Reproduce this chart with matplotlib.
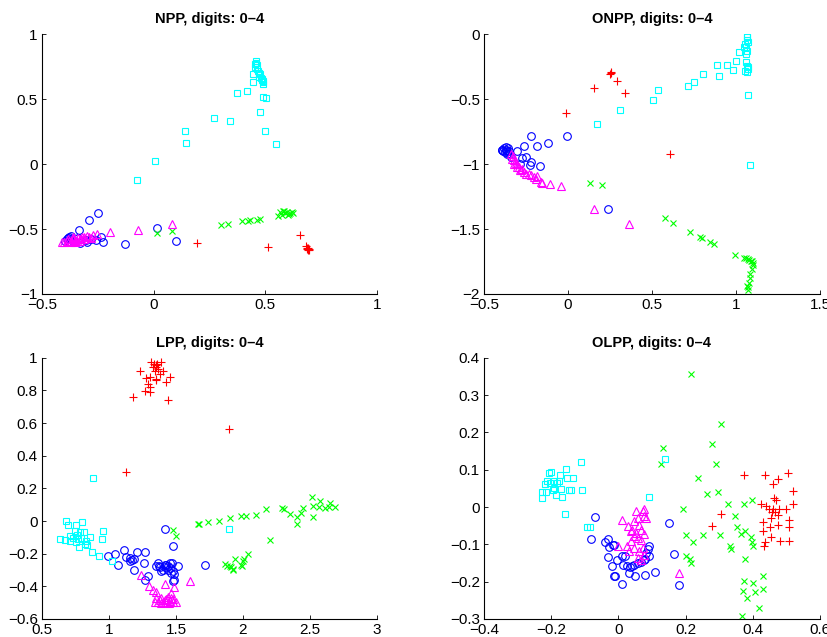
import numpy as np
import matplotlib
matplotlib.use('Agg')
import matplotlib.pyplot as plt

plt.rcParams['font.family'] = ['Liberation Sans', 'DejaVu Sans']
plt.rcParams['font.size'] = 10

# ---------------- NPP ----------------
npp_blue = [(-0.249, -0.376), (-0.291, -0.427), (-0.334, -0.509), (-0.234, -0.560), (-0.227, -0.601),
            (-0.301, -0.586), (-0.259, -0.581), (-0.129, -0.616), (0.017, -0.491), (0.098, -0.596),
            (-0.38, -0.56), (-0.385, -0.57), (-0.37, -0.58), (-0.375, -0.60), (-0.36, -0.59),
            (-0.39, -0.58), (-0.38, -0.60), (-0.35, -0.60), (-0.33, -0.61), (-0.34, -0.57),
            (-0.395, -0.59), (-0.37, -0.555), (-0.30, -0.60), (-0.28, -0.58)]
npp_red = [(0.192, -0.604), (0.510, -0.639), (0.655, -0.545), (0.682, -0.632), (0.688, -0.650),
           (0.692, -0.662), (0.697, -0.657), (0.690, -0.645), (0.695, -0.665), (0.685, -0.655)]
npp_green = [(0.577, -0.361), (0.585, -0.365), (0.59, -0.38), (0.598, -0.371), (0.605, -0.385),
             (0.61, -0.376), (0.618, -0.37), (0.622, -0.378), (0.60, -0.39), (0.573, -0.394),
             (0.565, -0.37), (0.558, -0.402), (0.476, -0.425), (0.464, -0.427), (0.431, -0.432),
             (0.423, -0.435), (0.395, -0.442), (0.332, -0.458), (0.301, -0.468), (0.080, -0.519),
             (0.015, -0.529)]
npp_cyan = [(0.458, 0.795), (0.460, 0.78), (0.461, 0.76), (0.453, 0.745), (0.464, 0.73),
            (0.468, 0.715), (0.443, 0.693), (0.473, 0.668), (0.483, 0.655), (0.488, 0.637),
            (0.491, 0.616), (0.446, 0.629), (0.420, 0.565), (0.374, 0.550), (0.491, 0.519),
            (0.504, 0.506), (0.476, 0.404), (0.269, 0.358), (0.343, 0.330), (0.500, 0.253),
            (0.142, 0.251), (0.147, 0.161), (0.547, 0.151), (0.008, 0.020), (-0.076, -0.120),
            (0.47, 0.70), (0.48, 0.66), (0.49, 0.63), (0.485, 0.645), (0.455, 0.77), (0.475, 0.69)]
npp_magenta = [(-0.197, -0.522), (-0.070, -0.504), (0.080, -0.463), (-0.252, -0.535),
               (-0.40, -0.60), (-0.39, -0.59), (-0.38, -0.595), (-0.37, -0.59), (-0.36, -0.58),
               (-0.35, -0.585), (-0.34, -0.57), (-0.33, -0.575), (-0.32, -0.56), (-0.31, -0.565),
               (-0.30, -0.555), (-0.29, -0.56), (-0.28, -0.57), (-0.27, -0.55), (-0.35, -0.60),
               (-0.37, -0.60), (-0.41, -0.60), (-0.33, -0.59), (-0.31, -0.58), (-0.36, -0.565),
               (-0.385, -0.58), (-0.345, -0.59), (-0.325, -0.58), (-0.355, -0.57)]

# ---------------- ONPP ----------------
onpp_blue = [(-0.391, -0.890), (-0.351, -0.921), (-0.305, -0.903), (-0.262, -0.862), (-0.218, -0.785),
             (-0.184, -0.864), (-0.117, -0.839), (-0.007, -0.788), (-0.276, -0.954), (-0.248, -0.946),
             (-0.218, -0.985), (-0.166, -1.013), (-0.228, -1.010), (-0.341, -0.946), (0.239, -1.345),
             (-0.286, -0.997), (-0.39, -0.89), (-0.38, -0.88), (-0.37, -0.89), (-0.36, -0.90),
             (-0.375, -0.91), (-0.355, -0.88), (-0.385, -0.90), (-0.365, -0.92), (-0.35, -0.90),
             (-0.37, -0.87)]
onpp_red = [(0.255, -0.302), (0.258, -0.295), (0.252, -0.305), (0.290, -0.363), (0.157, -0.414),
            (0.340, -0.455), (-0.009, -0.604), (0.608, -0.923)]
onpp_green = [(0.132, -1.143), (0.205, -1.159), (0.576, -1.419), (0.626, -1.453), (0.727, -1.524),
              (0.785, -1.560), (0.799, -1.573), (0.843, -1.601), (0.870, -1.616), (0.996, -1.698),
              (1.049, -1.721), (1.069, -1.729), (1.089, -1.744), (1.099, -1.765), (1.093, -1.811),
              (1.081, -1.880), (1.075, -1.918), (1.073, -1.944), (1.073, -1.969), (1.065, -1.939),
              (1.06, -1.725), (1.08, -1.74), (1.095, -1.75), (1.10, -1.78), (1.085, -1.85)]
onpp_cyan = [(1.063, -0.026), (1.063, -0.046), (1.055, -0.077), (1.059, -0.102), (1.065, -0.128),
             (1.061, -0.153), (1.049, -0.102), (1.019, -0.141), (0.999, -0.205), (1.059, -0.217),
             (1.063, -0.243), (1.069, -0.269), (1.063, -0.294), (1.069, -0.256), (1.053, -0.281),
             (0.886, -0.235), (0.944, -0.238), (0.984, -0.276), (0.898, -0.320), (0.801, -0.307),
             (0.751, -0.371), (0.717, -0.396), (1.073, -0.468), (0.537, -0.432), (0.505, -0.506),
             (0.310, -0.588), (0.171, -0.693), (1.085, -1.008), (1.063, -0.015), (1.069, -0.064)]
onpp_magenta = [(-0.341, -0.926), (-0.331, -0.959), (-0.321, -0.997), (-0.301, -1.023),
                (-0.282, -1.049), (-0.262, -1.061), (-0.232, -1.079), (-0.202, -1.100),
                (-0.182, -1.095), (-0.162, -1.138), (-0.152, -1.146), (-0.107, -1.151),
                (-0.043, -1.171), (-0.321, -0.972), (-0.301, -1.003), (-0.272, -1.036),
                (-0.286, -1.049), (-0.252, -1.074), (-0.222, -1.087), (-0.192, -1.113),
                (0.155, -1.343), (0.364, -1.465), (-0.33, -0.94), (-0.31, -0.99), (-0.29, -1.02)]

# ---------------- LPP ----------------
lpp_blue = [(1.416, -0.046), (1.479, -0.153), (1.110, -0.175), (1.048, -0.202), (0.996, -0.214),
            (1.068, -0.270), (1.125, -0.223), (1.155, -0.227), (1.172, -0.239), (1.210, -0.190),
            (1.272, -0.192), (1.259, -0.259), (1.187, -0.298), (1.292, -0.335), (1.272, -0.360),
            (1.367, -0.257), (1.371, -0.278), (1.379, -0.284), (1.416, -0.272), (1.429, -0.268),
            (1.441, -0.278), (1.454, -0.288), (1.471, -0.259), (1.479, -0.309), (1.484, -0.325),
            (1.516, -0.274), (1.479, -0.370), (1.484, -0.360), (1.391, -0.309), (1.720, -0.272),
            (1.354, -0.278), (1.454, -0.257), (1.421, -0.284), (1.441, -0.298), (1.466, -0.319),
            (1.404, -0.298), (1.155, -0.243), (1.190, -0.233)]
lpp_red = [(1.317, 0.973), (1.334, 0.963), (1.354, 0.953), (1.391, 0.977), (1.367, 0.932),
           (1.329, 0.943), (1.342, 0.922), (1.404, 0.922), (1.379, 0.902), (1.230, 0.922),
           (1.459, 0.885), (1.279, 0.875), (1.304, 0.881), (1.349, 0.871), (1.354, 0.861),
           (1.424, 0.850), (1.292, 0.840), (1.304, 0.819), (1.269, 0.799), (1.309, 0.789),
           (1.180, 0.758), (1.441, 0.742), (1.897, 0.561), (1.125, 0.303), (1.349, 0.943),
           (1.359, 0.959)]
lpp_green = [(1.479, -0.052), (1.503, -0.093), (1.665, -0.017), (1.673, -0.017), (1.740, -0.005),
             (1.822, 0.003), (1.902, 0.017), (1.982, 0.032), (2.019, 0.028), (2.094, 0.036),
             (2.171, 0.073), (2.288, 0.077), (2.308, 0.071), (2.353, 0.044), (2.405, 0.026),
             (2.402, -0.017), (2.435, 0.050), (2.450, 0.081), (2.517, 0.149), (2.519, 0.095),
             (2.574, 0.122), (2.569, 0.087), (2.519, 0.026), (2.612, 0.081), (2.644, 0.085),
             (2.649, 0.112), (2.686, 0.085), (2.201, -0.114), (2.039, -0.202), (2.009, -0.231),
             (1.942, -0.231), (1.865, -0.262), (1.877, -0.278), (1.902, -0.274), (1.927, -0.303),
             (1.922, -0.292), (1.982, -0.268), (1.994, -0.278), (2.001, -0.247), (1.914, -0.284)]
lpp_cyan = [(0.682, -0.001), (0.694, -0.022), (0.751, -0.026), (0.801, -0.003), (0.744, -0.063),
            (0.781, -0.067), (0.811, -0.069), (0.764, -0.083), (0.707, -0.093), (0.732, -0.104),
            (0.769, -0.110), (0.794, -0.104), (0.826, -0.120), (0.836, -0.145), (0.774, -0.157),
            (0.632, -0.108), (0.669, -0.114), (0.712, -0.120), (0.861, -0.097), (0.956, -0.063),
            (0.951, -0.108), (0.756, -0.128), (0.819, -0.140), (0.881, 0.266), (1.892, -0.046),
            (1.025, -0.247), (0.926, -0.214), (0.876, -0.190)]
lpp_magenta = [(1.242, -0.329), (1.299, -0.397), (1.329, -0.422), (1.354, -0.432), (1.421, -0.385),
               (1.484, -0.407), (1.608, -0.366), (1.342, -0.493), (1.354, -0.473), (1.379, -0.483),
               (1.404, -0.493), (1.429, -0.479), (1.454, -0.489), (1.479, -0.497), (1.391, -0.469),
               (1.416, -0.483), (1.441, -0.463), (1.466, -0.442), (1.367, -0.497), (1.429, -0.497),
               (1.503, -0.493), (1.466, -0.473), (1.39, -0.50), (1.45, -0.50), (1.48, -0.48)]

# ---------------- OLPP ----------------
olpp_blue = [(-0.071, -0.026), (-0.082, -0.086), (-0.040, -0.094), (-0.030, -0.085), (-0.028, -0.108),
             (-0.016, -0.101), (-0.013, -0.103), (-0.030, -0.135), (-0.020, -0.157), (-0.013, -0.184),
             (-0.011, -0.184), (0.010, -0.207), (0.012, -0.132), (0.020, -0.130), (0.014, -0.155),
             (0.027, -0.159), (0.032, -0.177), (0.042, -0.159), (0.047, -0.155), (0.050, -0.186),
             (0.057, -0.150), (0.067, -0.146), (0.075, -0.142), (0.079, -0.139), (0.082, -0.123),
             (0.087, -0.112), (0.090, -0.104), (0.090, -0.130), (0.080, -0.182), (0.108, -0.175),
             (0.151, -0.044), (0.167, -0.126), (0.179, -0.210), (-0.003, -0.141), (0.035, -0.162)]
olpp_red = [(0.375, 0.085), (0.436, 0.085), (0.506, 0.092), (0.459, 0.063), (0.474, 0.074),
            (0.519, 0.043), (0.424, 0.007), (0.439, 0.003), (0.449, -0.006), (0.459, -0.004),
            (0.464, 0.025), (0.469, 0.018), (0.479, -0.006), (0.499, -0.005), (0.519, 0.009),
            (0.429, -0.039), (0.454, -0.029), (0.474, -0.022), (0.507, -0.036), (0.474, -0.049),
            (0.507, -0.054), (0.452, -0.054), (0.429, -0.065), (0.454, -0.081), (0.482, -0.090),
            (0.507, -0.090), (0.437, -0.094), (0.434, -0.105), (0.280, -0.050), (0.305, -0.019),
            (0.466, -0.013), (0.456, -0.013)]
olpp_green = [(0.216, 0.357), (0.305, 0.222), (0.280, 0.170), (0.134, 0.159), (0.128, 0.115),
              (0.290, 0.115), (0.238, 0.079), (0.263, 0.034), (0.297, 0.041), (0.325, 0.009),
              (0.373, 0.009), (0.399, 0.020), (0.191, -0.005), (0.200, -0.074), (0.253, -0.076),
              (0.222, -0.094), (0.303, -0.076), (0.347, -0.025), (0.352, -0.054), (0.365, -0.072),
              (0.377, -0.065), (0.394, -0.081), (0.399, -0.094), (0.402, -0.105), (0.333, -0.105),
              (0.335, -0.112), (0.378, -0.139), (0.201, -0.130), (0.212, -0.139), (0.216, -0.150),
              (0.373, -0.198), (0.401, -0.204), (0.370, -0.225), (0.382, -0.245), (0.406, -0.227),
              (0.430, -0.219), (0.431, -0.184), (0.419, -0.271), (0.368, -0.292)]
olpp_cyan = [(-0.228, 0.025), (-0.226, 0.041), (-0.218, 0.061), (-0.216, 0.040), (-0.206, 0.092),
             (-0.201, 0.094), (-0.203, 0.065), (-0.196, 0.045), (-0.191, 0.052), (-0.186, 0.031),
             (-0.182, 0.065), (-0.174, 0.085), (-0.172, 0.049), (-0.167, 0.027), (-0.157, 0.101),
             (-0.152, 0.079), (-0.147, 0.047), (-0.142, 0.046), (-0.134, 0.079), (-0.112, 0.122),
             (-0.107, 0.046), (-0.160, -0.018), (-0.092, -0.054), (-0.084, -0.054), (0.092, 0.027),
             (0.138, 0.128), (-0.211, 0.070), (-0.191, 0.070), (-0.177, 0.071)]
olpp_magenta = [(-0.001, -0.104), (0.010, -0.034), (0.029, -0.052), (0.037, -0.065), (0.047, -0.038),
                (0.052, -0.011), (0.057, -0.029), (0.062, -0.047), (0.067, -0.061), (0.072, -0.011),
                (0.077, -0.025), (0.082, -0.029), (0.047, -0.078), (0.057, -0.083), (0.067, -0.087),
                (0.077, -0.072), (0.037, -0.092), (0.027, -0.105), (0.032, -0.119), (0.047, -0.110),
                (0.062, -0.119), (0.072, -0.110), (0.077, -0.128), (0.057, -0.137), (0.067, -0.141),
                (0.181, -0.177), (0.042, -0.061), (0.052, -0.069), (0.077, -0.006)]

panels = [
    ('NPP, digits: 0\u20134', (-0.5, 1), (-1, 1), [-0.5, 0, 0.5, 1], [-1, -0.5, 0, 0.5, 1],
     npp_blue, npp_red, npp_green, npp_cyan, npp_magenta),
    ('ONPP, digits: 0\u20134', (-0.5, 1.5), (-2, 0), [-0.5, 0, 0.5, 1, 1.5], [-2, -1.5, -1, -0.5, 0],
     onpp_blue, onpp_red, onpp_green, onpp_cyan, onpp_magenta),
    ('LPP, digits: 0\u20134', (0.5, 3), (-0.6, 1), [0.5, 1, 1.5, 2, 2.5, 3],
     [-0.6, -0.4, -0.2, 0, 0.2, 0.4, 0.6, 0.8, 1],
     lpp_blue, lpp_red, lpp_green, lpp_cyan, lpp_magenta),
    ('OLPP, digits: 0\u20134', (-0.4, 0.6), (-0.3, 0.4), [-0.4, -0.2, 0, 0.2, 0.4, 0.6],
     [-0.3, -0.2, -0.1, 0, 0.1, 0.2, 0.3, 0.4],
     olpp_blue, olpp_red, olpp_green, olpp_cyan, olpp_magenta),
]

rects = [[0.0507, 0.5385, 0.4046, 0.408], [0.5845, 0.5385, 0.4058, 0.408],
         [0.0507, 0.0283, 0.4046, 0.410], [0.5845, 0.0283, 0.4058, 0.410]]

fig = plt.figure(figsize=(8.28, 6.37), dpi=100)

styles = [('o', (0, 0, 1), 5.5), ('+', (1, 0, 0), 6), ('x', (0, 1, 0), 4.5),
          ('s', (0, 1, 1), 5), ('^', (1, 0, 1), 5.5)]

for rect, (title, xl, yl, xt, yt, *groups) in zip(rects, panels):
    ax = fig.add_axes(rect)
    for (mk, col, ms), pts in zip(styles, groups):
        arr = np.array(pts)
        ax.plot(arr[:, 0], arr[:, 1], linestyle='none', marker=mk, markersize=ms,
                markerfacecolor='none', markeredgecolor=col, markeredgewidth=0.8)
    ax.set_xlim(*xl)
    ax.set_ylim(*yl)
    ax.set_xticks(xt)
    ax.set_yticks(yt)
    ax.set_xticklabels([f'{v:g}'.replace('-', '\u2212') for v in xt])
    ax.set_yticklabels([f'{v:g}'.replace('-', '\u2212') for v in yt])
    ax.spines['top'].set_visible(False)
    ax.spines['right'].set_visible(False)
    ax.tick_params(direction='in', length=3, width=0.6, labelsize=11, pad=3)
    for s in ('left', 'bottom'):
        ax.spines[s].set_linewidth(0.8)
    ax.set_title(title, fontsize=10.5, fontweight='bold', pad=8)

fig.savefig('out.png', dpi=100)
